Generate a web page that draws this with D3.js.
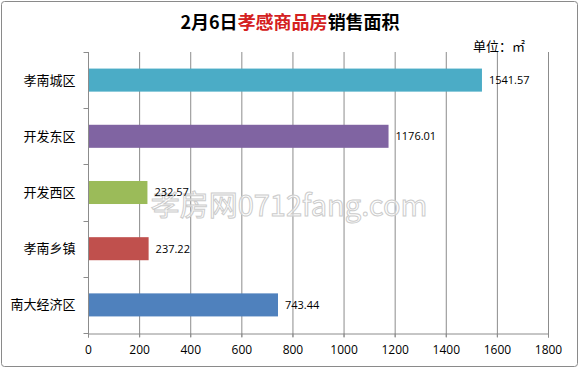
<!DOCTYPE html>
<html>
<head>
<meta charset="utf-8">
<script src="https://cdn.jsdelivr.net/npm/d3@7"></script>
<style>
  body { margin: 0; background: #fff; }
  svg { display: block; }
</style>
</head>
<body>
<svg width="579" height="369"></svg>
<script>
const categories = ["孝南城区", "开发东区", "开发西区", "孝南乡镇", "南大经济区"];
const values = [1541.57, 1176.01, 232.57, 237.22, 743.44];
const colors = ["#4BACC6", "#8064A2", "#9BBB59", "#C0504D", "#4F81BD"];
const xTicks = [0, 200, 400, 600, 800, 1000, 1200, 1400, 1600, 1800];

const svg = d3.select("svg");
const margin = { top: 52, right: 31, bottom: 36, left: 88 };
const width = 579, height = 369;

// outer frame
svg.append("rect")
    .attr("x", 1.5).attr("y", 1.5)
    .attr("width", width - 3).attr("height", height - 4)
    .attr("rx", 3)
    .attr("fill", "#fff")
    .attr("stroke", "#8a8a8a");

const x = d3.scaleLinear().domain([0, 1800]).range([margin.left, width - margin.right]);
const y = d3.scaleBand().domain(categories).range([margin.top, height - margin.bottom]);

// gridlines
svg.append("g")
    .selectAll("line")
    .data(xTicks)
    .join("line")
    .attr("x1", d => x(d) + 0.5).attr("x2", d => x(d) + 0.5)
    .attr("y1", margin.top).attr("y2", height - margin.bottom + 4)
    .attr("stroke", "#8c8c8c");

// watermark
svg.append("text")
    .attr("x", 289).attr("y", 216)
    .attr("text-anchor", "middle")
    .attr("font-family", "Noto Sans CJK SC")
    .attr("font-size", 29)
    .attr("fill", "#fff")
    .attr("fill-opacity", 0.6)
    .attr("stroke", "#cccccc")
    .attr("stroke-width", 1)
    .text("孝房网0712fang.com");

// bars
const barH = y.bandwidth() * 0.41;
svg.append("g")
    .selectAll("rect")
    .data(categories)
    .join("rect")
    .attr("x", x(0) + 1)
    .attr("y", d => y(d) + (y.bandwidth() - barH) / 2)
    .attr("width", (d, i) => x(values[i]) - x(0) - 1)
    .attr("height", barH)
    .attr("fill", (d, i) => colors[i]);

// value labels
svg.append("g")
    .selectAll("text")
    .data(categories)
    .join("text")
    .attr("x", (d, i) => x(values[i]) + 7)
    .attr("y", d => y(d) + y.bandwidth() / 2)
    .attr("dy", "0.35em")
    .attr("font-family", "Open Sans, sans-serif")
    .attr("font-size", 11)
    .attr("fill", "#000")
    .text((d, i) => values[i].toFixed(2));

// y axis
const yAxis = svg.append("g")
    .attr("transform", `translate(${margin.left + 0.5},0)`);
yAxis.append("line")
    .attr("y1", margin.top).attr("y2", height - margin.bottom)
    .attr("stroke", "#8c8c8c");
yAxis.selectAll(".tk")
    .data(categories.concat(["end"]))
    .join("line")
    .attr("x1", -5).attr("x2", 0)
    .attr("y1", (d, i) => i < categories.length ? Math.round(y(d)) + 0.5 : height - margin.bottom + 0.5)
    .attr("y2", (d, i) => i < categories.length ? Math.round(y(d)) + 0.5 : height - margin.bottom + 0.5)
    .attr("stroke", "#8c8c8c");
yAxis.selectAll("text")
    .data(categories)
    .join("text")
    .attr("x", -13)
    .attr("y", d => y(d) + y.bandwidth() / 2)
    .attr("dy", "0.35em")
    .attr("text-anchor", "end")
    .attr("font-family", "Noto Sans CJK SC")
    .attr("font-size", 13)
    .attr("fill", "#000")
    .text(d => d);

// x axis
const xAxis = svg.append("g")
    .attr("transform", `translate(0,${height - margin.bottom + 0.5})`)
    .call(d3.axisBottom(x).tickValues(xTicks).tickFormat(d3.format("d")).tickSize(4).tickPadding(8));
xAxis.select(".domain").attr("stroke", "#8c8c8c");
xAxis.selectAll(".tick line").attr("stroke", "#8c8c8c");
xAxis.selectAll(".tick text")
    .attr("font-family", "Open Sans, sans-serif")
    .attr("font-size", 12)
    .attr("fill", "#000");

// title
const title = svg.append("text")
    .attr("x", 290).attr("y", 29)
    .attr("text-anchor", "middle")
    .attr("font-family", "Noto Sans CJK SC")
    .attr("font-weight", "bold")
    .attr("font-size", 18);
title.append("tspan").attr("fill", "#000").text("2月6日");
title.append("tspan").attr("fill", "#D42020").text("孝感商品房");
title.append("tspan").attr("fill", "#000").text("销售面积");

// unit
svg.append("text")
    .attr("x", 525).attr("y", 51)
    .attr("text-anchor", "end")
    .attr("font-family", "Noto Sans CJK SC")
    .attr("font-size", 13)
    .attr("fill", "#000")
    .text("单位：㎡");
</script>
</body>
</html>
